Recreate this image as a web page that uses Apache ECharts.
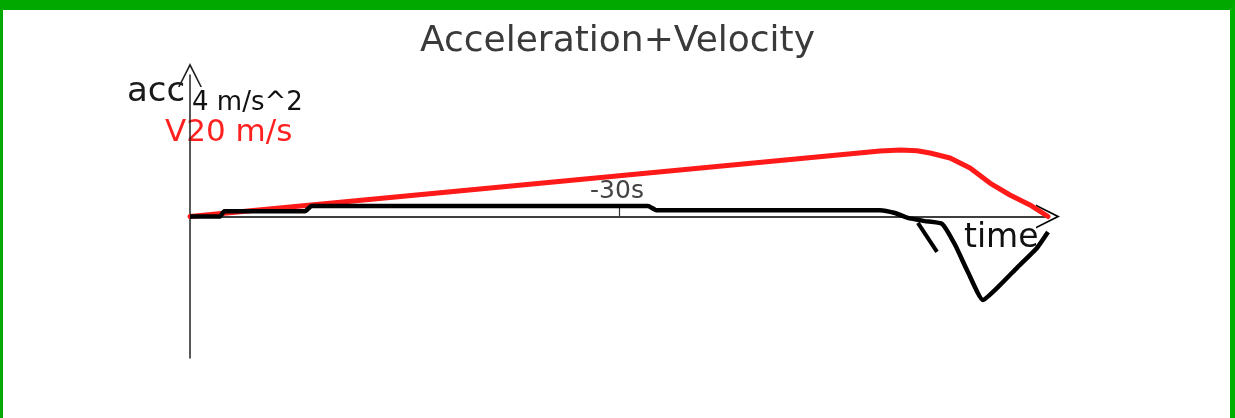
<!DOCTYPE html>
<html>
<head>
<meta charset="utf-8">
<script src="https://cdn.jsdelivr.net/npm/echarts@6/dist/echarts.min.js"></script>
<style>
html,body{margin:0;padding:0;background:#fff;}
#c{width:1235px;height:418px;}
#frame{position:absolute;left:0;top:0;width:1235px;height:418px;box-sizing:border-box;border-top:10px solid #00a800;border-left:3px solid #00a800;border-right:5px solid #00b000;pointer-events:none;}
</style>
</head>
<body>
<div id="c"></div>
<div id="frame"></div>
<script>
// time in seconds (0 = end), velocity in m/s, acceleration in m/s^2
var velTime = [-60, -11.75, -10.3, -9.16, -8.25, -6.85, -5.45, -4.06, -2.66, -1.26, 0];
var velValues = [0, 9.26, 9.4, 9.3, 8.97, 8.27, 6.86, 4.73, 3.04, 1.63, 0];

var accTime = [-60, -57.9, -57.6, -51.96, -51.5, -27.97, -27.4, -11.75, -10.7, -9.8, -8.6, -7.4, -6.5, -5.6, -4.55, -3.36, -2.17, -0.77, 0];
var accValues = [0, 0, 0.15, 0.15, 0.3, 0.3, 0.18, 0.18, 0.1, -0.04, -0.13, -0.21, -0.8, -1.57, -2.36, -1.94, -1.45, -0.89, -0.44];

var strokeTime = [-9.1, -7.76];
var strokeValues = [-0.18, -1.0];

var xTickValues = [-30];
var xTickLabels = ['-30s'];

function pairs(xs, ys){ return xs.map(function(x,i){ return [x, ys[i]]; }); }

var FONT = 'DejaVu Sans';
var chevron = 'path://M0,20 L10,0 L20,20 L18.6,20 L10,3.2 L1.4,20 Z';

var chart = echarts.init(document.getElementById('c'), null, {renderer:'canvas'});
chart.setOption({
  animation:false,
  backgroundColor:'#fff',
  grid:{left:190, right:187, top:75, bottom:60},
  xAxis:{
    type:'value', min:-60, max:0,
    axisLine:{onZero:true, lineStyle:{color:'#000', width:1.5}, symbol:['none', chevron], symbolSize:[26,24], symbolOffset:[0,0]},
    axisTick:{show:true, customValues:xTickValues, inside:true, length:9, lineStyle:{color:'#333', width:1.2}},
    axisLabel:{show:false},
    splitLine:{show:false}
  },
  yAxis:[{
    type:'value', min:-4, max:4,
    axisLine:{show:true, onZero:false, lineStyle:{color:'#222', width:1.5}, symbol:['none', chevron], symbolSize:[24,24], symbolOffset:[0,0]},
    axisTick:{show:false}, axisLabel:{show:false}, splitLine:{show:false}
  },{
    type:'value', min:-20, max:20, position:'left',
    axisLine:{show:false}, axisTick:{show:false}, axisLabel:{show:false}, splitLine:{show:false}
  }],
  series:[
    {type:'line', name:'V', yAxisIndex:1, data:pairs(velTime, velValues), smooth:false, symbol:'none',
      lineStyle:{color:'#ff1a1a', width:5, join:'round', cap:'round'}},
    {type:'line', name:'acc', yAxisIndex:0, data:pairs(accTime, accValues), smooth:0.15, symbol:'none',
      lineStyle:{color:'#000', width:4.5}},
    {type:'line', name:'stroke', yAxisIndex:0, data:pairs(strokeTime, strokeValues), symbol:'none',
      lineStyle:{color:'#000', width:4}}
  ],
  graphic:[
    {type:'text', left:'center', top:24, style:{text:'Acceleration+Velocity', font:'36px "'+FONT+'"', fill:'#3a3a3a'}},
    {type:'text', x:127, y:92, style:{text:'acc', font:'34px "'+FONT+'"', fill:'#1a1a1a', verticalAlign:'middle'}},
    {type:'text', x:192, y:103, style:{text:'4 m/s^2', font:'26px "'+FONT+'"', fill:'#111', verticalAlign:'middle'}},
    {type:'text', x:165, y:133, style:{text:'V20 m/s', font:'31px "'+FONT+'"', fill:'#ff2020', verticalAlign:'middle'}},
    {type:'text', x:964, y:238, style:{text:'time', font:'33px "'+FONT+'"', fill:'#111', verticalAlign:'middle'}}
  ]
});
// tick label placed above the axis at its value
var tickLabels = xTickValues.map(function(v, i){
  var p = chart.convertToPixel({gridIndex:0}, [v, 0]);
  return {type:'text', x:p[0] - 2, y:p[1] - 25, style:{text:xTickLabels[i], font:'25px "'+FONT+'"', fill:'#444', align:'center', verticalAlign:'middle'}};
});
chart.setOption({graphic: chart.getOption().graphic[0].elements.concat(tickLabels)});
</script>
</body>
</html>
